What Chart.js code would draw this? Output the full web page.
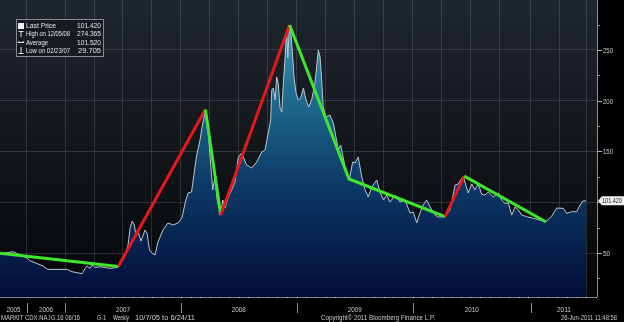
<!DOCTYPE html>
<html>
<head>
<meta charset="utf-8">
<script src="https://cdn.jsdelivr.net/npm/chart.js@4.4.1/dist/chart.umd.min.js"></script>
<style>
  html, body { margin: 0; padding: 0; background: #000; overflow: hidden; }
  #wrap { width: 624px; height: 322px; }
</style>
</head>
<body>
<div id="wrap"><canvas id="chart" width="624" height="322"></canvas></div>
<script>
// weekly series, x = position in the weekly series (2006 is sparse)
const weeks = [0, 5.8, 12.1, 13.5, 19.3, 21.5, 30.1, 32.3, 36.8, 38.2, 39.1, 40.4, 41.3, 42.6, 44.9, 49.4, 53.0,
  56.1, 57.5, 58.4, 59.3, 60.2, 61.1, 62.2, 63.3, 65.1, 66.0, 67.1, 68.2, 69.6, 70.9, 73.2, 75.4, 77.7, 79.9,
  81.7, 83.0, 84.4, 86.0, 86.9, 88.3, 89.8, 90.7, 91.6, 92.2, 93.1, 94.3, 95.5, 96.5, 97.5, 99.1, 100.0, 101.0,
  102.5, 104.0, 105.5, 107.0, 108.5, 110.7, 113.0, 115.2, 117.5, 119.0, 120.4, 121.5, 122.0, 122.7, 123.5, 124.2,
  124.9, 125.7, 126.5, 127.2, 127.9, 128.4, 128.7, 129.2, 129.9, 130.6, 131.4, 132.0, 132.9, 133.9, 135.0, 136.2,
  137.4, 138.6, 139.9, 141.4, 142.9, 143.7, 144.4, 145.1, 146.3, 148.1, 149.6, 150.4, 151.9, 152.9, 154.1, 155.6,
  156.8, 158.3, 159.4, 160.8, 162.4, 163.9, 165.3, 166.9, 169.1, 170.6, 172.1, 173.6, 175.1, 177.3, 179.6, 181.8,
  184.1, 185.5, 187.1, 188.5, 190.0, 191.5, 193.8, 195.3, 196.8, 199.8, 202.0, 204.3, 205.7, 207.3, 208.0, 209.5,
  210.2, 211.8, 213.2, 214.7, 216.2, 217.7, 219.2, 221.4, 223.7, 225.2, 226.7, 228.2, 229.7, 231.2, 232.7, 234.2,
  236.4, 239.4, 242.4, 245.1, 247.7, 249.9, 252.9, 254.4, 256.6, 258.9, 260.4, 261.7, 263.1]
const lastPrice = [49.0, 51.3, 45.1, 42.4, 37.2, 33.9, 33.9, 31.6, 29.7, 34.9, 37.2, 34.9, 38.2, 35.9, 36.5, 34.9, 35.9,
  48.0, 57.9, 74.6, 81.5, 78.6, 66.7, 69.7, 61.8, 72.7, 69.7, 53.0, 50.0, 48.0, 60.8, 72.7, 79.6, 77.6, 79.6,
  84.5, 98.3, 109.1, 110.1, 124.9, 146.5, 161.3, 174.1, 184.0, 190.9, 181.0, 144.6, 112.1, 124.9, 102.2, 87.4, 102.2, 94.3,
  105.2, 112.1, 119.9, 144.6, 148.5, 136.7, 133.7, 139.6, 149.5, 151.5, 168.2, 181.0, 210.6, 212.5, 200.7, 223.4,
  217.5, 192.8, 188.9, 217.5, 240.1, 259.8, 269.7, 242.1, 274.4, 266.7, 243.1, 223.4, 207.6, 200.7, 202.7, 212.5,
  200.7, 193.8, 200.7, 217.5, 250.0, 243.1, 220.4, 193.8, 184.0, 185.9, 178.1, 169.2, 151.5, 156.4, 143.6, 126.8,
  121.9, 139.6, 138.7, 144.6, 124.9, 112.1, 105.2, 115.0, 121.9, 110.1, 102.2, 107.1, 100.2, 107.1, 100.2, 102.2,
  89.4, 90.4, 79.6, 89.4, 97.3, 102.2, 92.4, 87.4, 85.5, 85.8, 92.4, 117.0, 118.0, 123.9, 125.4, 114.0,
  109.1, 118.0, 112.1, 118.0, 108.1, 107.1, 110.1, 105.2, 109.1, 102.2, 98.8, 99.3, 87.4, 95.3, 92.4, 87.4,
  85.8, 84.2, 82.5, 80.8, 86.4, 94.3, 94.0, 89.1, 90.7, 90.7, 97.3, 101.2, 101.4]

// hand-drawn trend lines (rising legs red, falling legs green)
const trendWeeks  = [0, 53.1, 92.2, 99.1, 130.0, 156.7, 199.8, 208.4, 245.0]
const trendValues = [49.7, 36.7, 191.3, 87.4, 274.6, 122.9, 85.8, 125.8, 80.8]

const yearNames  = ['2005', '2006', '2007', '2008', '2009', '2010', '2011']
const yearStarts = [0, 12.1, 29.2, 81.2, 133.2, 185.2, 238.3]
const gridWeeks  = [12.1, 29.2, 42.2, 55.2, 68.2, 81.2, 94.2, 107.2, 120.2, 133.2, 146.2, 159.2, 172.2,
  185.2, 198.2, 211.2, 224.2, 238.3, 251.0, 263.1]
const yTicks = [50, 100, 150, 200, 250]
const yMinor = [25, 75, 125, 175, 225, 275]

const legendRows = [
  ['Last Price', '101.420'],
  ['High on 12/05/08', '274.365'],
  ['Average', '101.520'],
  ['Low on 02/23/07', '29.705']
]
const LAST = 101.42
const X_MIN = 0, X_MAX = 268
const Y_MIN = 6.7, Y_MAX = 299.2

const FONT = '"Liberation Sans", Arial, sans-serif'
const TXT  = '#c9cdd2'

function txt(ctx, s, x, y, align, maxW, color, size) {
  ctx.font = `${size || 7.5}px ${FONT}`
  ctx.fillStyle = color || TXT
  ctx.textAlign = align || 'left'
  ctx.textBaseline = 'middle'
  if (maxW) ctx.fillText(s, x, y, maxW)
  else ctx.fillText(s, x, y)
}

function line(ctx, x1, y1, x2, y2, color, w) {
  ctx.strokeStyle = color
  ctx.lineWidth = w || 1
  ctx.beginPath()
  ctx.moveTo(x1, y1)
  ctx.lineTo(x2, y2)
  ctx.stroke()
}

const bloombergFrame = {
  id: 'bloombergFrame',
  beforeDraw(chart) {
    const { ctx, chartArea: a } = chart
    ctx.save()
    ctx.fillStyle = '#000'
    ctx.fillRect(0, 0, chart.width, chart.height)
    const g = ctx.createLinearGradient(0, a.top, 0, a.bottom)
    g.addColorStop(0, '#1f262d')
    g.addColorStop(0.6, '#0f1317')
    g.addColorStop(1, '#040507')
    ctx.fillStyle = g
    ctx.fillRect(a.left, a.top, a.right - a.left, a.bottom - a.top)
    ctx.restore()
  },
  afterDraw(chart) {
    const { ctx, chartArea: a } = chart
    const xs = chart.scales.x, ys = chart.scales.y
    ctx.save()

    // right value axis
    line(ctx, a.right + 0.5, a.top, a.right + 0.5, a.bottom, '#8a9096')
    yMinor.forEach(v => {
      const y = Math.round(ys.getPixelForValue(v)) + 0.5
      line(ctx, a.right, y, a.right + 3, y, '#8a9096')
    })
    yTicks.forEach(v => {
      const y = Math.round(ys.getPixelForValue(v)) + 0.5
      line(ctx, a.right, y, a.right + 5, y, '#b0b5ba')
      if (v !== 100) txt(ctx, String(v), a.right + 6, y, 'left', v >= 100 ? 10 : 7)
    })

    // last price tag
    const ty = ys.getPixelForValue(LAST)
    ctx.fillStyle = '#f2f2f2'
    ctx.beginPath()
    ctx.moveTo(a.right + 1, ty)
    ctx.lineTo(a.right + 5, ty - 4.5)
    ctx.lineTo(624, ty - 4.5)
    ctx.lineTo(624, ty + 4.5)
    ctx.lineTo(a.right + 5, ty + 4.5)
    ctx.closePath()
    ctx.fill()
    txt(ctx, '101.420', a.right + 5, ty + 0.5, 'left', 20, '#111', 7.5)

    // bottom time axis with monthly marks
    line(ctx, a.left, a.bottom + 0.5, a.right, a.bottom + 0.5, '#7d8389')
    ctx.fillStyle = '#d8dde2'
    for (let w = yearStarts[2]; w <= X_MAX; w += 52 / 12) {
      ctx.fillRect(Math.round(xs.getPixelForValue(w)), a.bottom, 1, 1)
    }

    // year labels and separators
    yearNames.forEach((name, i) => {
      const x0 = xs.getPixelForValue(yearStarts[i])
      const x1 = i + 1 < yearStarts.length ? xs.getPixelForValue(yearStarts[i + 1]) : a.right
      if (i > 0) line(ctx, Math.round(x0) + 0.5, a.bottom + 6, Math.round(x0) + 0.5, a.bottom + 16, '#8a9096')
      txt(ctx, name, (x0 + x1) / 2, a.bottom + 12.5, 'center', 14)
    })

    // footer
    txt(ctx, 'MARKIT CDX.NA.IG.16 06/16', 1, 318, 'left', 79)
    txt(ctx, 'G-1', 97, 318, 'left', 9)
    txt(ctx, 'Weekly', 113, 318, 'left', 16)
    txt(ctx, '10/7/05 to 6/24/11', 135, 318, 'left', 62)
    txt(ctx, 'Copyright\u00a9 2011 Bloomberg Finance L.P.', 321, 318, 'left', 114)
    txt(ctx, '26-Jun-2011 11:48:58', 617, 318, 'right', 56)

    // legend box
    ctx.fillStyle = 'rgba(22,27,32,0.92)'
    ctx.fillRect(16, 19, 88, 38)
    ctx.strokeStyle = '#868c92'
    ctx.lineWidth = 1
    ctx.strokeRect(16.5, 19.5, 87, 37)
    const rowY = [26, 34, 42.5, 50.5]
    legendRows.forEach((r, i) => {
      txt(ctx, r[0], 26, rowY[i], 'left', r[0].length > 10 ? 44 : (r[0] === 'Average' ? 22 : 30), '#e2e4e6')
      txt(ctx, r[1], 101, rowY[i], 'right', 24, '#e2e4e6')
    })
    ctx.fillStyle = '#f0f0f0'
    ctx.fillRect(18, 23, 6, 6)
    line(ctx, 18.5, 31.5, 23.5, 31.5, '#e2e4e6')
    line(ctx, 21, 31.5, 21, 37, '#e2e4e6')
    line(ctx, 18, 42.5, 24, 42.5, '#e2e4e6')
    line(ctx, 19.5, 41, 18, 42.5, '#e2e4e6')
    line(ctx, 22.5, 41, 24, 42.5, '#e2e4e6')
    line(ctx, 21, 47, 21, 53, '#e2e4e6')
    line(ctx, 18.5, 53.5, 23.5, 53.5, '#e2e4e6')

    ctx.restore()
  }
}

const pricePoints = weeks.map((w, i) => ({ x: w, y: lastPrice[i] }))
const trendPoints = trendWeeks.map((w, i) => ({ x: w, y: trendValues[i] }))

function areaFill(ctx) {
  const a = ctx.chart.chartArea
  if (!a) return '#0d3a66'
  const g = ctx.chart.ctx.createLinearGradient(0, a.top, 0, a.bottom)
  g.addColorStop(0, '#4fa9c8')
  g.addColorStop(0.3, '#216f93')
  g.addColorStop(0.62, '#0c3a68')
  g.addColorStop(1, '#020c38')
  return g
}

new Chart(document.getElementById('chart'), {
  type: 'line',
  data: {
    datasets: [
      {
        label: 'Trend',
        data: trendPoints,
        borderWidth: 3,
        borderColor: '#3ee62c',
        segment: {
          borderColor: c => c.p1.parsed.y > c.p0.parsed.y ? '#e8171b' : '#3ee62c'
        },
        pointRadius: 0,
        fill: false,
        tension: 0,
        order: 0
      },
      {
        label: 'Last Price',
        data: pricePoints,
        borderWidth: 1,
        borderColor: '#bcc6ce',
        backgroundColor: areaFill,
        fill: 'start',
        pointRadius: 0,
        tension: 0,
        order: 1
      }
    ]
  },
  options: {
    responsive: false,
    devicePixelRatio: 1,
    animation: false,
    layout: { padding: { left: 0, top: 0, right: 27, bottom: 25 } },
    plugins: { legend: { display: false }, tooltip: { enabled: false } },
    scales: {
      x: {
        type: 'linear',
        min: X_MIN, max: X_MAX,
        z: 1,
        afterBuildTicks: s => { s.ticks = gridWeeks.map(v => ({ value: v })) },
        ticks: { display: false },
        grid: { color: 'rgba(150,170,190,0.22)', drawTicks: false },
        border: { display: false }
      },
      y: {
        type: 'linear',
        position: 'right',
        min: Y_MIN, max: Y_MAX,
        z: 1,
        afterBuildTicks: s => { s.ticks = yTicks.map(v => ({ value: v })) },
        ticks: { display: false },
        grid: { color: 'rgba(150,170,190,0.22)', drawTicks: false },
        border: { display: false }
      }
    }
  },
  plugins: [bloombergFrame]
})
</script>
</body>
</html>
